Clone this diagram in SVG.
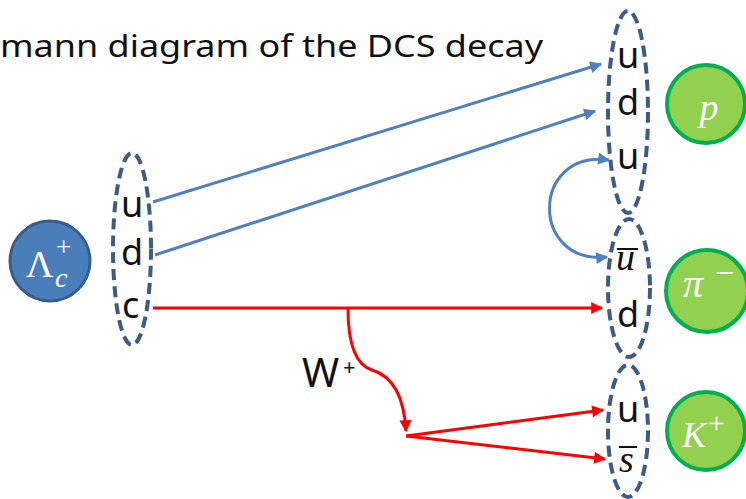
<svg xmlns="http://www.w3.org/2000/svg" width="746" height="499" viewBox="0 0 746 499">
<defs>
<style>
.q{font-family:"Noto Sans","Open Sans","Liberation Sans",sans-serif;font-size:36px;fill:#111}
.m{font-family:"Liberation Serif","DejaVu Serif",serif;font-style:italic;fill:#fff}
.mk{font-family:"Liberation Serif","DejaVu Serif",serif;font-style:italic;fill:#111}
.ell{fill:none;stroke:#3d5b84;stroke-width:4;stroke-dasharray:11 6}
.g{fill:#92d050;stroke:#00b050;stroke-width:4}
.blue{fill:none;stroke:#4f81bd;stroke-width:3}
.red{fill:none;stroke:#ff0000;stroke-width:3}
</style>
<marker id="ab" viewBox="0 0 10 10" refX="9" refY="5" markerWidth="14" markerHeight="12" markerUnits="userSpaceOnUse" orient="auto-start-reverse"><path d="M0,0 L10,5 L0,10 z" fill="#4f81bd"/></marker>
<marker id="ar" viewBox="0 0 10 10" refX="9" refY="5" markerWidth="14" markerHeight="12" markerUnits="userSpaceOnUse" orient="auto-start-reverse"><path d="M0,0 L10,5 L0,10 z" fill="#ff0000"/></marker>
</defs>
<rect width="746" height="499" fill="#fff"/>
<text x="0" y="57" font-family="Noto Sans,Open Sans,sans-serif" font-size="31" fill="#111" textLength="543" lengthAdjust="spacingAndGlyphs">mann diagram of the DCS decay</text>

<g id="lambda">
<circle cx="50" cy="261" r="40" fill="#4a7ebb" stroke="#385d8a" stroke-width="3"/>
<text x="26" y="277" font-family="Liberation Serif,DejaVu Serif,serif" font-size="38" fill="#fff">Λ</text>
<text class="m" x="55" y="287" font-size="28">c</text>
<text x="56" y="256" font-family="Liberation Serif,DejaVu Serif,serif" font-size="27" fill="#fff">+</text>
</g>

<g id="baryon">
<ellipse class="ell" cx="132" cy="249" rx="19" ry="96"/>
<text class="q" x="121" y="217">u</text>
<text class="q" x="121" y="265">d</text>
<text class="q" x="122" y="318">c</text>
</g>

<g id="proton-quarks">
<ellipse class="ell" cx="628" cy="112" rx="20" ry="101"/>
<text class="q" x="617" y="68">u</text>
<text class="q" x="617" y="115">d</text>
<text class="q" x="617" y="169">u</text>
</g>

<g id="pion-quarks">
<ellipse class="ell" cx="629" cy="288" rx="21" ry="69"/>
<text class="mk" x="616" y="270" font-size="38">u</text>
<line x1="617" y1="249" x2="638" y2="249" stroke="#111" stroke-width="2"/>
<text class="q" x="617" y="327">d</text>
</g>

<g id="kaon-quarks">
<ellipse class="ell" cx="628" cy="431" rx="20" ry="66"/>
<text class="q" x="617" y="422">u</text>
<text class="mk" x="619" y="472" font-size="38">s</text>
<line x1="619" y1="447" x2="637" y2="447" stroke="#111" stroke-width="2"/>
</g>

<g id="p">
<circle class="g" cx="706" cy="104" r="39"/>
<text class="m" x="709" y="120" font-size="38" text-anchor="middle">p</text>
</g>

<g id="pi">
<circle class="g" cx="707" cy="291" r="41"/>
<text class="m" x="683" y="297" font-size="40">π</text>
<text x="715" y="284" font-family="Liberation Serif,DejaVu Serif,serif" font-size="34" fill="#fff">−</text>
</g>

<g id="K">
<circle class="g" cx="706" cy="431" r="39"/>
<text class="m" x="682" y="447" font-size="36">K</text>
<text x="708" y="433" font-family="Liberation Serif,DejaVu Serif,serif" font-size="30" fill="#fff">+</text>
</g>

<g id="W-label">
<text x="302" y="387" font-family="Noto Sans,Open Sans,sans-serif" font-size="40" fill="#111">W</text>
<text x="343" y="375" font-family="Noto Sans,Open Sans,sans-serif" font-size="22" fill="#111">+</text>
</g>

<g id="connectors">
<path class="blue" d="M153,202 L601,64" marker-end="url(#ab)"/>
<path class="blue" d="M155,255 L595,111" marker-end="url(#ab)"/>
<path class="blue" d="M609,160 C530,150 530,265 607,257" marker-start="url(#ab)" marker-end="url(#ab)"/>
<path class="red" d="M153,308 L602,308" marker-end="url(#ar)"/>
<path class="red" d="M348,309 C348,345 356,365 372,370 C392,376 404,395 406,431" marker-end="url(#ar)"/>
<path class="red" d="M406,436 L603,410" marker-end="url(#ar)"/>
<path class="red" d="M406,436 L605,459" marker-end="url(#ar)"/>
</g>
</svg>
